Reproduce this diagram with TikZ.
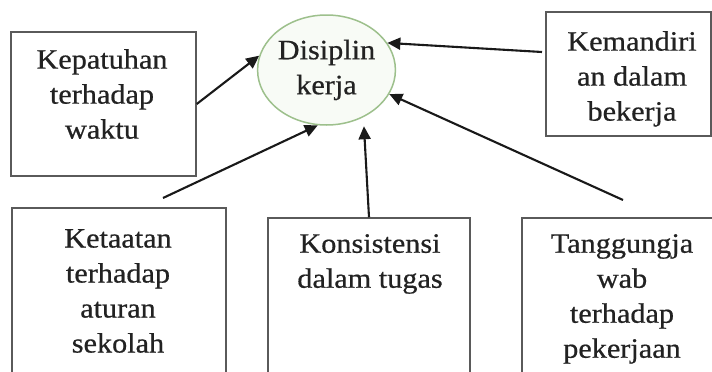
\documentclass[tikz,border=0pt]{standalone}
\usepackage{fontspec}
\newfontfamily\lbl[FakeStretch=1.08,FakeBold=0.6]{Liberation Serif}
\usetikzlibrary{shapes.geometric,arrows.meta}
\definecolor{boxline}{HTML}{5A5A5A}
\definecolor{ellline}{HTML}{9DC08C}
\definecolor{ellfill}{HTML}{F8FBF6}
\definecolor{txt}{HTML}{222222}
\tikzset{
  box/.style={draw=boxline, line width=1.5pt, fill=white, inner sep=0pt},
  lab/.style={font=\lbl\fontsize{28}{35}\selectfont, text=txt, align=center, inner sep=0pt},
  arr/.style={draw=black!90, line width=2.1pt, -{Triangle[length=13pt,width=12pt]}},
}
\begin{document}
\begin{tikzpicture}[x=1pt,y=-1pt]
\useasboundingbox (0,0) rectangle (712,372);
\fill[white] (0,0) rectangle (712,372);
\clip (0,0) rectangle (712,372);
% boxes
\node[box, minimum width=185pt, minimum height=144pt] (kep) at (103.5,104) {};
\node[box, minimum width=165pt, minimum height=124pt] (kem) at (628.5,74) {};
\node[box, minimum width=214pt, minimum height=177pt] (ket) at (119,296.5) {};
\node[box, minimum width=202pt, minimum height=167pt] (kon) at (369,301.5) {};
\node[box, minimum width=208pt, minimum height=167pt] (tan) at (626,301.5) {};
% central ellipse
\node[ellipse, draw=ellline, fill=ellfill, line width=1.5pt, minimum width=133pt, minimum height=110pt, inner sep=0pt, lab] (dis) at (326.5,70) {Disiplin\\kerja};
% labels
\node[lab, anchor=north] (kepT) at (102,49) {Kepatuhan\\terhadap\\waktu};
\node[lab, anchor=north] (kemT) at (632,31) {Kemandiri\\an dalam\\bekerja};
\node[lab, anchor=north] (ketT) at (118,229) {Ketaatan\\terhadap\\aturan\\sekolah};
\node[lab, anchor=north] (konT) at (370,234) {Konsistensi\\dalam tugas};
\node[lab, anchor=north] (tanT) at (622,234) {Tanggungja\\wab\\terhadap\\pekerjaan};
% free ends of connectors
\coordinate (ketS) at (163,198);
\coordinate (tanS) at (623,200);
\coordinate (kemS) at (542,52);
% connectors
\draw[arr] (kep.east) -- (dis.168);
\draw[arr] (ketS) -- (dis.261);
\draw[arr, shorten >=9pt] (kon.north) -- (dis.308);
\draw[arr] (tanS) -- (dis.339);
\draw[arr] (kemS) -- (dis.24);
\end{tikzpicture}
\end{document}
